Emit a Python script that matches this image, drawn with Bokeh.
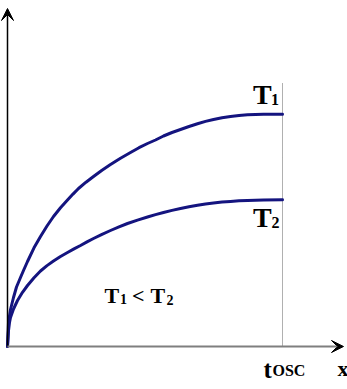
from bokeh.plotting import figure
from bokeh.models import Range1d, Arrow, VeeHead
from bokeh.core.properties import value
from bokeh.embed import file_html
from bokeh.resources import INLINE

# ---- data ----
t1_x = [0, 1, 3, 6, 9, 13, 16, 20, 26.5, 33, 39.5, 46, 53, 60, 65.5, 71, 78.5, 86, 94.5, 103,
        113, 123, 131.5, 140, 148, 156, 164.5, 173, 181.5, 190, 198, 206, 214.5, 223, 231.5,
        240, 256, 275]
t1_y = [0, 24, 37, 49, 59.5, 69, 76, 85, 98.7, 110, 120.5, 130, 138.7, 146.5, 152.4, 158, 164.3,
        170, 176.3, 182, 188.3, 194, 198.8, 203, 206.5, 210.5, 214, 217, 220, 222.7, 225.1, 227,
        228.7, 230, 231, 231.7, 232.2, 232.3]

t2_x = [0, 1, 2, 3, 6, 10, 15, 20, 26.5, 33, 39.5, 46, 53, 60, 66.5, 73, 79.5, 86, 94.5, 103,
        111.5, 120, 130, 140, 148, 156, 164.5, 173, 181.5, 190, 198, 206, 214.5, 223, 231.5,
        240, 256, 275]
t2_y = [0, 16, 24, 29, 37.5, 46, 54.2, 61, 68.7, 75.5, 80.9, 85.5, 90, 94, 97.6, 101, 104.6, 108,
        112.2, 116, 119.6, 123, 126.4, 129.5, 131.9, 134, 136.1, 138, 139.7, 141.2, 142.5, 143.5,
        144.4, 145.1, 145.7, 146.1, 146.6, 146.8]

t_osc = 275
y_axis_top = 338
x_axis_end = 336
osc_line_top = 263

FONT = value("'Liberation Serif', 'Times New Roman', serif")
NAVY = "#14147f"

p = figure(width=347, height=389, output_backend="svg", toolbar_location=None,
           x_range=Range1d(-7, 340), y_range=Range1d(-43, 346),
           x_axis_location=None, y_axis_location=None, min_border=0,
           background_fill_color="white", border_fill_color="white")
p.grid.visible = False
p.outline_line_color = None

# dotted t_osc line
p.segment(x0=[t_osc], y0=[0], x1=[t_osc], y1=[osc_line_top],
          line_color="#606060", line_width=1, line_dash="1 1")

# curves
p.line(t1_x, t1_y, line_color=NAVY, line_width=3, line_join="round", line_cap="round")
p.line(t2_x, t2_y, line_color=NAVY, line_width=3, line_join="round", line_cap="round")

# axes with arrows
p.add_layout(Arrow(end=VeeHead(size=12, fill_color="black", line_color="black", line_width=1),
                   x_start=0, y_start=0, x_end=0, y_end=y_axis_top,
                   line_color="black", line_width=1.5))
p.add_layout(Arrow(end=VeeHead(size=12, fill_color="black", line_color="black", line_width=1),
                   x_start=0, y_start=0, x_end=x_axis_end, y_end=0,
                   line_color="#7f7f7f", line_width=2))

DY = 8  # compensation for the renderer's baseline placement

def txt(x, y, s, size, style="bold"):
    p.text(x=[x], y=[y + DY], text=[s], text_font=FONT, text_font_size=f"{size}px",
           text_font_style=style, text_color="black",
           text_align="left", text_baseline="alphabetic")

# T1 / T2 labels
txt(245.5, 244, "T", 28)
txt(263.5, 239, "1", 16)
txt(245.5, 121, "T", 28)
txt(264, 116, "2", 16)

# T1 < T2
txt(97, 43, "T", 22)
txt(112.5, 40, "1", 14)
txt(124.5, 43, "<", 22)
txt(143, 43, "T", 22)
txt(159, 39, "2", 14)

# t_OSC and x
txt(256, -31, "t", 25)
txt(265, -32, "OSC", 16)
txt(330, -30, "x", 22)

open("out.html", "w").write(file_html(p, INLINE))
